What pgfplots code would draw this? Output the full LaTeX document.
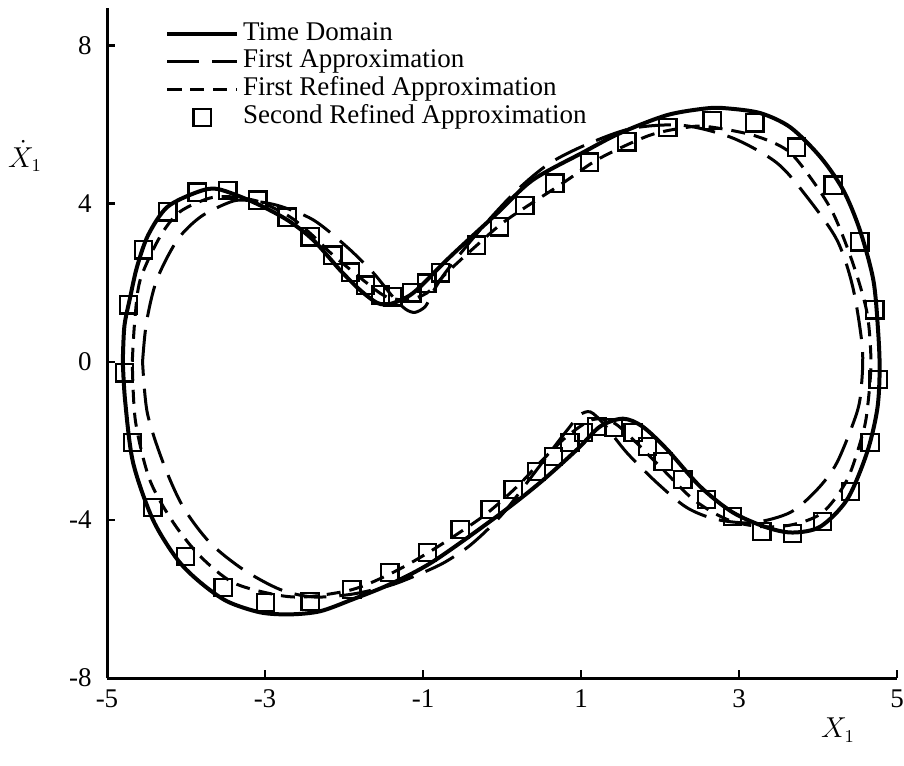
\documentclass[border=0pt]{standalone}
\usepackage{fontspec}
\setmainfont{Liberation Serif}
\usepackage{pgfplots}
\pgfplotsset{compat=1.18}
\begin{document}
\fontsize{13.5}{14}\selectfont
\begin{tikzpicture}
\useasboundingbox (-53.5pt,-43.5pt) rectangle (398.5pt,339pt);
\begin{axis}[
  at={(0,0)}, anchor=south west,
  scale only axis, width=395pt, height=335pt,
  xmin=-5, xmax=5, ymin=-8, ymax=8.95,
  axis x line*=bottom, axis y line*=left,
  axis line style={line width=1.5pt},
  xtick={-5,-3,-1,1,3,5}, ytick={-8,-4,0,4,8},
  tick align=inside, major tick length=4pt,
  tick style={line width=1.2pt, black},
  /pgf/number format/assume math mode=true,
  yticklabel style={xshift=-3pt},
  xticklabel style={yshift=-1pt},
  clip=false,
  legend image code/.code={\draw[mark repeat=2,mark phase=2,#1] plot coordinates {(0pt,0pt) (17.5pt,0pt) (35pt,0pt)};},
  legend cell align=left,
  legend style={draw=none, fill=none, at={(rel axis cs:0.073,0.982)}, anchor=north west,
    inner sep=0pt, row sep=0pt,
    nodes={text height=0.7em, text depth=0.25em, inner ysep=0.5pt, inner xsep=2pt}},
]
% Time Domain
\addplot[black, line width=2pt, smooth, tension=0.5] coordinates {
(-4.80,0.0) (-4.78,0.9) (-4.71,1.6) (-4.62,2.4) (-4.48,3.2) (-4.24,3.91) (-3.86,4.29) (-3.60,4.37)
(-3.15,4.04) (-2.72,3.59) (-2.39,3.08) (-2.05,2.32) (-1.80,1.82) (-1.58,1.49) (-1.42,1.46)
(-1.20,1.64) (-1.04,1.89) (-0.66,2.65) (-0.06,3.76) (0.39,4.60) (1.03,5.30) (1.49,5.78)
(2.09,6.24) (2.59,6.41) (2.85,6.41) (3.27,6.29) (3.65,5.93) (4.03,5.18) (4.32,4.34)
(4.53,3.33) (4.70,2.07) (4.76,0.8) (4.78,-0.2) (4.75,-1.2) (4.62,-2.30) (4.37,-3.48)
(4.03,-4.17) (3.68,-4.32) (3.35,-4.19) (2.92,-3.81) (2.51,-3.16) (2.09,-2.22) (1.78,-1.64)
(1.53,-1.44) (1.24,-1.64) (0.95,-2.22) (0.48,-3.06) (-0.03,-3.86) (-0.87,-5.05) (-1.42,-5.63)
(-1.89,-6.01) (-2.30,-6.31) (-2.68,-6.39) (-3.06,-6.34) (-3.48,-6.06) (-3.82,-5.58)
(-4.11,-5.0) (-4.42,-3.99) (-4.67,-2.55) (-4.77,-1.0) (-4.80,0.0)
};
\addlegendentry{Time Domain}
% First Approximation
\addplot[black, line width=1.5pt, dash pattern=on 16pt off 6.5pt, smooth, tension=0.5] coordinates {
(-4.55,0.0) (-4.50,1.0) (-4.37,2.07) (-4.11,3.08) (-3.82,3.66) (-3.48,4.01) (-3.28,4.09)
(-2.85,3.96) (-2.39,3.59) (-1.96,2.90) (-1.63,2.25) (-1.38,1.64) (-1.22,1.33) (-1.10,1.25)
(-0.97,1.40) (-0.88,1.75) (-0.70,2.30) (-0.25,3.40) (0.19,4.34) (0.61,5.03) (1.11,5.53)
(1.66,5.91) (2.29,5.98) (2.92,5.66) (3.48,5.03) (3.86,4.17) (4.24,3.08) (4.44,1.89)
(4.56,0.38) (4.55,-0.6) (4.49,-1.3) (4.24,-2.55) (3.99,-3.23) (3.65,-3.81) (3.18,-4.07)
(2.72,-3.99) (2.34,-3.69) (1.96,-3.06) (1.58,-2.30) (1.30,-1.60) (1.12,-1.27) (0.98,-1.35)
(0.86,-1.64) (0.70,-2.05) (0.30,-3.10) (0.05,-3.75) (-0.18,-4.24) (-0.44,-4.70) (-0.75,-5.10)
(-1.08,-5.40) (-1.42,-5.66) (-1.90,-5.88) (-2.39,-5.95) (-2.81,-5.76) (-3.28,-5.25)
(-3.70,-4.57) (-4.04,-3.66) (-4.29,-2.55) (-4.49,-1.29) (-4.55,0.0)
};
\addlegendentry{First Approximation}
% First Refined Approximation
\addplot[black, line width=1.5pt, dash pattern=on 7pt off 4.5pt, smooth, tension=0.5] coordinates {
(-4.68,0.0) (-4.65,1.0) (-4.58,2.07) (-4.33,3.16) (-4.08,3.79) (-3.70,4.14) (-3.41,4.17)
(-3.06,4.04) (-2.68,3.66) (-2.40,3.2) (-2.14,2.70) (-1.71,1.99) (-1.46,1.64) (-1.20,1.57)
(-0.95,1.74) (-0.70,2.25) (-0.30,2.98) (0.06,3.59) (0.77,4.52) (1.24,5.15) (1.87,5.73)
(2.34,5.93) (2.60,5.95) (3.18,5.73) (3.61,5.35) (3.90,4.67) (4.19,3.76) (4.44,2.50)
(4.62,1.24) (4.67,0.0) (4.63,-1.1) (4.57,-1.79) (4.37,-2.98) (4.06,-3.81) (3.68,-4.12)
(3.27,-4.17) (2.85,-3.99) (2.42,-3.48) (2.0,-2.65) (1.66,-1.97) (1.41,-1.54) (1.15,-1.46)
(0.82,-1.89) (0.48,-2.55) (0.19,-3.16) (-0.24,-3.91) (-0.87,-4.75) (-1.38,-5.33)
(-1.89,-5.76) (-2.50,-5.95) (-2.90,-5.88) (-3.41,-5.58) (-3.82,-4.92) (-4.16,-4.07)
(-4.46,-2.98) (-4.64,-1.5) (-4.68,0.0)
};
\addlegendentry{First Refined Approximation}
% Second Refined Approximation
\addplot[only marks, mark=square, mark size=4.3pt, mark options={line width=1.1pt, fill=none}, black] coordinates {
(-4.78,-0.28) (-4.73,1.44) (-4.54,2.83) (-4.23,3.79) (-3.86,4.29) (-3.47,4.34) (-3.09,4.09)
(-2.72,3.66) (-2.43,3.16) (-2.14,2.70) (-1.92,2.27) (-1.73,1.94) (-1.54,1.69) (-1.38,1.64)
(-1.14,1.74) (-0.95,1.99) (-0.78,2.25) (-0.32,2.95) (-0.03,3.41) (0.29,3.96) (0.67,4.52)
(1.11,5.05) (1.58,5.56) (2.10,5.93) (2.66,6.11) (3.20,6.04) (3.73,5.43) (4.19,4.47)
(4.53,3.03) (4.72,1.31) (4.76,-0.45) (4.66,-2.05) (4.41,-3.28) (4.06,-4.04) (3.68,-4.34)
(3.29,-4.29) (2.92,-3.91) (2.59,-3.48) (2.29,-2.98) (2.04,-2.53) (1.84,-2.15) (1.66,-1.79)
(1.41,-1.67) (1.20,-1.64) (1.03,-1.79) (0.86,-2.05) (0.65,-2.40) (0.44,-2.78) (0.14,-3.23)
(-0.15,-3.74) (-0.53,-4.24) (-0.94,-4.82) (-1.42,-5.33) (-1.90,-5.76) (-2.43,-6.06)
(-2.99,-6.09) (-3.53,-5.71) (-4.01,-4.92) (-4.42,-3.69) (-4.68,-2.05)
};
\addlegendentry{Second Refined Approximation}
\end{axis}
\node at (-41pt,261pt) {$\dot{X}_{1}$};
\node at (365.5pt,-26pt) {$X_1$};
\end{tikzpicture}
\end{document}
